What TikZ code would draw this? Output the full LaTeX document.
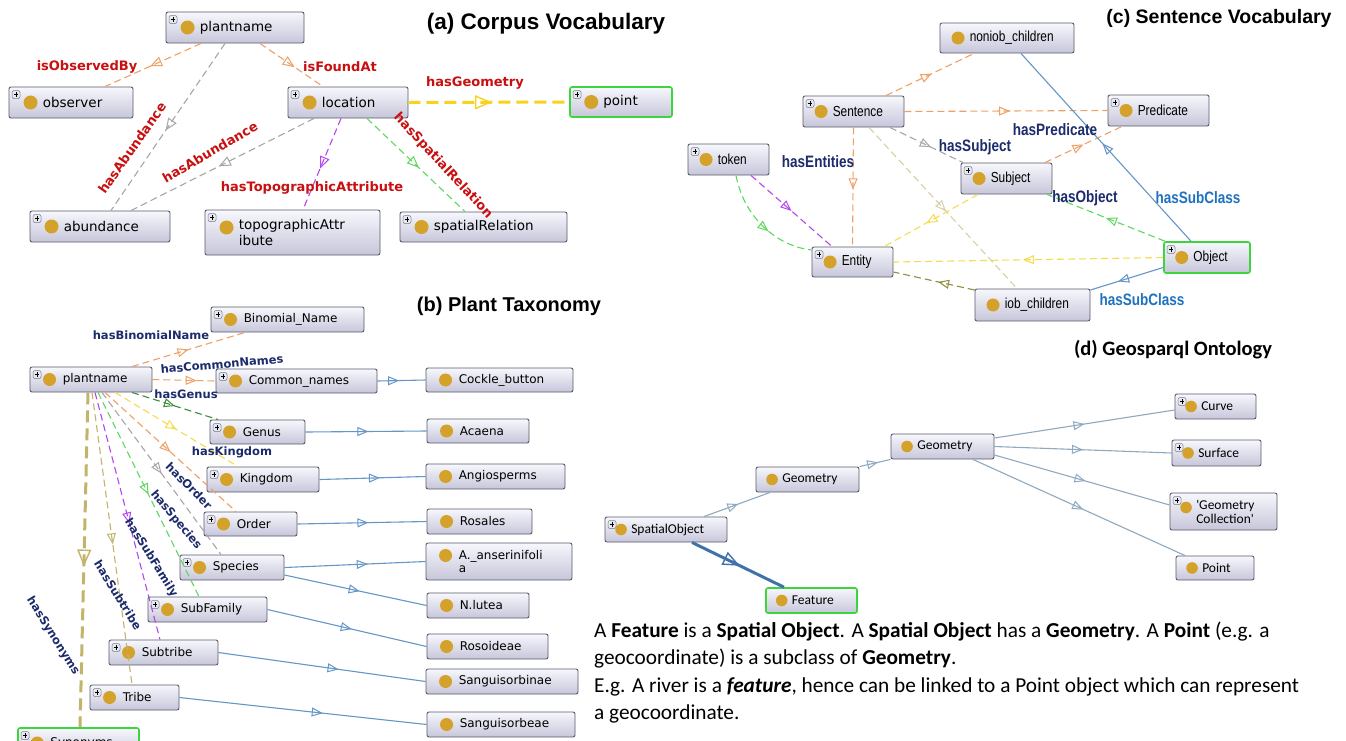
\documentclass[tikz,border=0pt]{standalone}
\usepackage{fontspec}
\usetikzlibrary{arrows.meta,decorations.markings,fit,calc}
\newfontfamily\dvs{DejaVu Sans}
\newfontfamily\lib{Liberation Sans}
\newfontfamily\libn[FakeStretch=0.82]{Liberation Sans}
\newfontfamily\carl{Carlito}
\definecolor{bord}{HTML}{5A5A6A}
\definecolor{ftop}{HTML}{F7F7FD}
\definecolor{fbot}{HTML}{C6C6DA}
\definecolor{gbord}{HTML}{3CD63C}
\definecolor{ogold}{HTML}{D4A12B}
\definecolor{labred}{HTML}{C81010}
\definecolor{navy}{HTML}{1C2B6B}
\definecolor{sblue}{HTML}{1F72C0}
\definecolor{eor}{HTML}{EFA066}
\definecolor{egr}{HTML}{A6A6A6}
\definecolor{eye}{HTML}{F8D21C}
\definecolor{eyl}{HTML}{F5DC50}
\definecolor{epu}{HTML}{B347EE}
\definecolor{elg}{HTML}{5ED85E}
\definecolor{edg}{HTML}{3B8C3B}
\definecolor{eol}{HTML}{C2B46A}
\definecolor{eold}{HTML}{8E8E3E}
\definecolor{ekh}{HTML}{D6D0A4}
\definecolor{ebl}{HTML}{6496C8}
\definecolor{edb}{HTML}{8FA9BF}
\definecolor{ethk}{HTML}{3F73A8}
\definecolor{plb}{HTML}{7A7A88}
\definecolor{plf}{HTML}{E6E8F0}

\newcommand\onto[9]{%
  \tikzset{#2}%
  \coordinate (#1-nw) at (#3,#4);
  \coordinate (#1-se) at (#5,#6);
  \node[bx,fit=(#1-nw)(#1-se),inner sep=0pt,#8] (#1) {};
  \fill[ogold] ([xshift=\coff,yshift=#9]#1.west) circle[radius=\crad];
  \node[anchor=west,inner sep=0pt,font=\nfont,align=left] (#1-t) at ([xshift=\toff]#1.west) {#7};
}

\tikzset{
  pa/.code={\def\coff{22pt}\def\toff{34pt}\def\crad{7pt}\def\nfont{\dvs\fontsize{13.5}{15.5}\selectfont}},
  pb/.code={\def\coff{20pt}\def\toff{33pt}\def\crad{6.5pt}\def\nfont{\dvs\fontsize{12}{13}\selectfont}},
  pc/.code={\def\coff{18.5pt}\def\toff{30pt}\def\crad{6.5pt}\def\nfont{\libn\fontsize{14.5}{16}\selectfont}},
  pd/.code={\def\coff{16.5pt}\def\toff{26.5pt}\def\crad{5.8pt}\def\nfont{\carl\fontsize{13.5}{14}\selectfont}},
  bx/.style={draw=bord, line width=0.9pt, rounded corners=2pt, top color=ftop, bottom color=fbot},
  gbox/.style={draw=gbord, line width=1.6pt},
  plus/.style={path picture={
      \coordinate (pp) at ([xshift=3pt,yshift=-3.5pt]path picture bounding box.north west);
      \draw[draw=plb, fill=plf, line width=0.5pt] (pp) rectangle ++(8pt,-8pt);
      \draw[black, line width=0.8pt] ([xshift=4pt,yshift=-1.8pt]pp) -- ++(0pt,-4.4pt);
      \draw[black, line width=0.8pt] ([xshift=1.8pt,yshift=-4pt]pp) -- ++(4.4pt,0pt);
  }},
  dsh/.style={line width=1.1pt, dash pattern=on 7pt off 4pt},
  sol/.style={line width=1.1pt},
  ma/.style={postaction={decorate, decoration={markings, mark=at position #1 with {\arrow{Triangle[open,length=12pt,width=10pt,line width=1pt]}}}}},
  ma/.default=0.5,
  mb/.style={postaction={decorate, decoration={markings, mark=at position #1 with {\arrow{Triangle[open,length=11pt,width=9pt,line width=1pt]}}}}},
  mb/.default=0.5,
  mbig/.style={postaction={decorate, decoration={markings, mark=at position #1 with {\arrow{Triangle[open,length=17pt,width=14pt,line width=1.4pt]}}}}},
  mbig/.default=0.5,
  la/.style={font=\dvs\bfseries\fontsize{13}{13}\selectfont, text=labred, inner sep=1pt},
  lb/.style={font=\dvs\bfseries\fontsize{11.5}{11.5}\selectfont, text=navy, inner sep=1pt},
  lc/.style={font=\libn\bfseries\fontsize{16.5}{16.5}\selectfont, text=navy, inner sep=1pt},
  lcs/.style={lc, text=sblue},
}

\begin{document}
\begin{tikzpicture}[x=1pt,y=-1pt]
\useasboundingbox (0,0) rectangle (1346,740);
\clip (0,0) rectangle (1346,740);
\fill[white] (0,0) rectangle (1346,740);

% ================= (a) Corpus Vocabulary =================
\node[font=\lib\bfseries\fontsize{22.5}{22.5}\selectfont] (ta) at (546,24) {(a) Corpus Vocabulary};
\onto{aPlant}{pa}{166}{12}{304}{43}{plantname}{plus}{0pt}
\onto{aObs}{pa}{9}{87}{133}{118}{observer}{plus}{0pt}
\onto{aLoc}{pa}{288}{87}{408}{118}{location}{plus}{0pt}
\onto{aPoint}{pa}{570}{87}{672}{117}{point}{plus,gbox}{0pt}
\onto{aAbund}{pa}{30}{211}{170}{242}{abundance}{plus}{0pt}
\onto{aTopo}{pa}{205}{210}{380}{255}{topographicAttr\\ibute}{plus}{5pt}
\onto{aSpat}{pa}{400}{212}{567}{242}{spatialRelation}{plus}{0pt}

\draw[eor, dsh, ma=0.53] ([xshift=-34pt]aPlant.south) -- ([xshift=34pt]aObs.north);
\draw[egr, dsh, ma=0.52] ([xshift=-10pt]aPlant.south) -- ([xshift=11pt]aAbund.north);
\draw[eor, dsh, ma=0.55] ([xshift=25pt]aPlant.south) -- ([xshift=-25pt]aLoc.north);
\draw[eye, line width=3pt, dash pattern=on 12pt off 6pt, mbig=0.52] (aLoc.east) -- (aPoint.west);
\draw[egr, dsh, ma=0.52] ([xshift=-34pt]aLoc.south) -- ([xshift=31pt]aAbund.north);
\draw[epu, dsh, ma=0.55] ([xshift=-7pt]aLoc.south) -- ([xshift=10.5pt]aTopo.north);
\draw[elg, dsh, ma=0.53] ([xshift=19pt]aLoc.south) -- ([xshift=-18.5pt]aSpat.north);

\node[la] (lObs) at (87,67) {isObservedBy};
\node[la] (lFound) at (340,67) {isFoundAt};
\node[la] (lGeom) at (475,83) {hasGeometry};
\node[la, rotate=55] (lAb1) at (132,148) {hasAbundance};
\node[la, rotate=30] (lAb2) at (210,152) {hasAbundance};
\node[la] (lTopo) at (312,188) {hasTopographicAttribute};
\node[la, rotate=-47] (lSpat) at (443,166) {hasSpatialRelation};

% ================= (c) Sentence Vocabulary =================
\node[font=\lib\bfseries\fontsize{19.5}{19.5}\selectfont] (tc) at (1219,18) {(c) Sentence Vocabulary};
\onto{cNon}{pc}{940}{23}{1074}{53}{noniob\_children}{}{0pt}
\onto{cSent}{pc}{803}{96}{904}{127}{Sentence}{plus}{0pt}
\onto{cPred}{pc}{1108}{95}{1209}{126}{Predicate}{plus}{0pt}
\onto{cTok}{pc}{688}{144}{769}{175}{token}{plus}{0pt}
\onto{cSubj}{pc}{961}{163}{1052}{194}{Subject}{plus}{0pt}
\onto{cEnt}{pc}{812}{247}{893}{277}{Entity}{plus}{0pt}
\onto{cObj}{pc}{1164}{242}{1250}{273}{Object}{plus,gbox}{0pt}
\onto{cIob}{pc}{975}{289}{1090}{321}{iob\_children}{}{0pt}

\draw[eor, dsh, mb=0.52] ([xshift=32.5pt]cSent.north) -- ([xshift=-33pt]cNon.south);
\draw[eor, dsh, mb=0.52] (cSent.east) -- (cPred.west);
\draw[egr, dsh, mb=0.56] ([xshift=36.5pt]cSent.south) -- ([xshift=-43.5pt]cSubj.north);
\draw[eor, dsh, mb=0.52] (cSent.south) -- (cEnt.north);
\draw[ekh, dsh, mb=0.52] ([xshift=15.5pt]cSent.south) -- ([xshift=-15.5pt]cIob.north);
\draw[eor, dsh, mb=0.5] ([xshift=38.5pt]cSubj.north) -- ([xshift=-36.5pt]cPred.south);
\draw[eyl, dsh, mb=0.55] ([xshift=-28.5pt]cSubj.south) -- ([xshift=31.5pt]cEnt.north);
\draw[elg, dsh, mb=0.5] ([xshift=-42pt]cObj.north) -- ([xshift=40.5pt]cSubj.south);
\draw[eyl, dsh, mb=0.52] (cObj.west) -- (cEnt.east);
\draw[ebl, sol, mb=0.52] ([xshift=-16pt]cObj.north) -- ([xshift=14pt]cNon.south);
\draw[ebl, sol, mb=0.62] ([yshift=-10pt]cObj.west) -- ([yshift=15pt]cIob.east);
\draw[eold, dsh, mb=0.45] ([yshift=15pt]cIob.west) -- ([yshift=-10pt]cEnt.east);
\draw[epu, dsh, mb=0.5] ([xshift=22.5pt]cTok.south) -- ([xshift=-20.5pt]cEnt.north);
\draw[elg, dsh, mb=0.58] ([xshift=7.5pt]cTok.south) .. controls +(8,42) and +(-35,-4) .. ([yshift=12pt]cEnt.west);

\node[lc] (lSubj) at (975,147) {hasSubject};
\node[lc] (lEnt) at (818,162) {hasEntities};
\node[lc] (lPred) at (1055,130) {hasPredicate};
\node[lc] (lObj) at (1085,198) {hasObject};
\node[lcs] (lSc1) at (1198,198) {hasSubClass};
\node[lcs] (lSc2) at (1142,300) {hasSubClass};

% ================= (b) Plant Taxonomy =================
\node[font=\lib\bfseries\fontsize{20}{20}\selectfont] (tb) at (509,306) {(b) Plant Taxonomy};
\onto{bBin}{pb}{211}{307}{364}{332}{Binomial\_Name}{plus}{0pt}
\onto{bPlant}{pb}{30}{367}{152}{392}{plantname}{plus}{0pt}
\onto{bCom}{pb}{216}{369}{377}{393}{Common\_names}{plus}{0pt}
\onto{bCock}{pb}{426}{368}{573}{392}{Cockle\_button}{}{0pt}
\onto{bGenus}{pb}{210}{420}{305}{444}{Genus}{plus}{0pt}
\onto{bAcaena}{pb}{427}{419}{529}{443}{Acaena}{}{0pt}
\onto{bKing}{pb}{207}{467}{319}{492}{Kingdom}{plus}{0pt}
\onto{bAngio}{pb}{426}{464}{565}{489}{Angiosperms}{}{0pt}
\onto{bOrder}{pb}{204}{512}{297}{536}{Order}{plus}{0pt}
\onto{bRos}{pb}{427}{509}{532}{534}{Rosales}{}{0pt}
\onto{bSpec}{pb}{180}{555}{284}{580}{Species}{plus}{0pt}
\onto{bAns}{pb}{426}{543}{572}{580}{A.\_anserinifoli\\a}{}{6pt}
\onto{bNlut}{pb}{427}{593}{529}{618}{N.lutea}{}{0pt}
\onto{bSub}{pb}{148}{597}{267}{622}{SubFamily}{plus}{0pt}
\onto{bRosoid}{pb}{427}{634}{548}{659}{Rosoideae}{}{0pt}
\onto{bSubtr}{pb}{109}{640}{218}{665}{Subtribe}{plus}{0pt}
\onto{bSangi}{pb}{426}{669}{578}{694}{Sanguisorbinae}{}{0pt}
\onto{bTribe}{pb}{90}{685}{179}{710}{Tribe}{plus}{0pt}
\onto{bSangu}{pb}{427}{712}{575}{737}{Sanguisorbeae}{}{0pt}
\onto{bSyn}{pb}{18}{728}{139}{758}{Synonyms}{plus,gbox}{0pt}

\draw[eor, dsh, mb=0.5] ([xshift=41pt]bPlant.north) -- ([xshift=-42.5pt]bBin.south);
\draw[eor, dsh, mb=0.7] (bPlant.east) -- (bCom.west);
\draw[edg, dsh, mb=0.5] ([xshift=41pt]bPlant.south) -- ([xshift=-39.5pt]bGenus.north);
\draw[eyl, dsh, mb=0.5] ([xshift=24pt]bPlant.south) -- ([xshift=-25pt]bKing.north);
\draw[eor, dsh, mb=0.5] ([xshift=14pt]bPlant.south) -- ([xshift=-14.5pt]bOrder.north);
\draw[egr, dsh, mb=0.5] ([xshift=11pt]bPlant.south) -- ([xshift=-11pt]bSpec.north);
\draw[elg, dsh, mb=0.5] ([xshift=7pt]bPlant.south) -- ([xshift=-8.5pt]bSub.north);
\draw[epu, dsh, mb=0.53] ([xshift=4pt]bPlant.south) -- ([xshift=-3.5pt]bSubtr.north);
\draw[eol, dsh, mb=0.52] ([xshift=1pt]bPlant.south) -- ([xshift=-2.5pt]bTribe.north);
\draw[eol, line width=3pt, dash pattern=on 12pt off 6pt, mbig=0.52] ([xshift=-3pt]bPlant.south) -- ([xshift=1.5pt]bSyn.north);

\draw[ebl, sol, mb=0.45] (bCom.east) -- (bCock.west);
\draw[ebl, sol, mb=0.52] (bGenus.east) -- (bAcaena.west);
\draw[ebl, sol, mb=0.57] (bKing.east) -- (bAngio.west);
\draw[ebl, sol, mb=0.55] (bOrder.east) -- (bRos.west);
\draw[ebl, sol, mb=0.59] (bSpec.east) -- (bAns.west);
\draw[ebl, sol, mb=0.53] ([yshift=-7.5pt]bSpec.east) -- (bNlut.west);
\draw[ebl, sol, mb=0.53] (bSub.east) -- (bRosoid.west);
\draw[ebl, sol, mb=0.58] (bSubtr.east) -- (bSangi.west);
\draw[ebl, sol, mb=0.58] (bTribe.east) -- (bSangu.west);

\node[lb] (lBin) at (151,335) {hasBinomialName};
\node[lb, rotate=5] (lCom) at (222,364) {hasCommonNames};
\node[lb] (lGen) at (186,394) {hasGenus};
\node[lb] (lKing) at (232,452) {hasKingdom};
\node[lb, rotate=-45] (lOrd) at (189,486) {hasOrder};
\node[lb, rotate=-50] (lSpe) at (176,520) {hasSpecies};
\node[lb, rotate=-58] (lSubF) at (151,558) {hasSubFamily};
\node[lb, rotate=-58] (lSubT) at (118,595) {hasSubtribe};
\node[lb, rotate=-58] (lSyn) at (53,636) {hasSynonyms};

% ================= (d) Geosparql Ontology =================
\node[font=\carl\bfseries\fontsize{20.5}{20.5}\selectfont] (td) at (1173,350) {(d) Geosparql Ontology};
\onto{dGeoT}{pd}{891}{434}{994}{459}{Geometry}{}{0pt}
\onto{dCurve}{pd}{1175}{394}{1256}{419}{Curve}{plus}{0pt}
\onto{dSurf}{pd}{1172}{440}{1261}{466}{Surface}{plus}{0pt}
\onto{dGColl}{pd}{1170}{493}{1277}{530}{'Geometry\\Collection'}{plus}{4pt}
\onto{dPoint}{pd}{1176}{556}{1254}{580}{Point}{}{0pt}
\onto{dGeoL}{pd}{756}{467}{859}{492}{Geometry}{}{0pt}
\onto{dSpat}{pd}{605}{517}{727}{542}{SpatialObject}{plus}{0pt}
\onto{dFeat}{pd}{766}{588}{857}{613}{Feature}{gbox}{0pt}

\draw[edb, sol, mb=0.52] ([xshift=38pt]dSpat.north) -- ([xshift=-37.5pt]dGeoL.south);
\draw[edb, sol, mb=0.6] (dGeoL.north east) -- (dGeoT.south west);
\draw[edb, sol, mb=0.5] ([yshift=8.5pt]dGeoT.east) -- ([yshift=-3.5pt]dCurve.west);
\draw[edb, sol, mb=0.5] (dGeoT.east) -- (dSurf.west);
\draw[edb, sol, mb=0.52] ([yshift=-8.5pt]dGeoT.east) -- ([yshift=6.5pt]dGColl.west);
\draw[edb, sol, mb=0.52] ([xshift=30.5pt]dGeoT.south) -- ([xshift=-30pt]dPoint.north);
\draw[ethk, line width=3pt, mbig=0.52] ([xshift=26pt]dSpat.south) -- ([xshift=-27.5pt]dFeat.north);

\node[anchor=north west, align=left, inner sep=0pt, font=\carl\fontsize{21.3}{27.2}\selectfont] (para) at (594,622)
 {A \textbf{Feature} is a \textbf{Spatial Object}. A \textbf{Spatial Object} has a \textbf{Geometry}. A \textbf{Point} (e.g. a\\
  geocoordinate) is a subclass of \textbf{Geometry}.\\
  E.g. A river is a \textbf{\textit{feature}}, hence can be linked to a Point object which can represent\\
  a geocoordinate.};
\end{tikzpicture}
\end{document}
